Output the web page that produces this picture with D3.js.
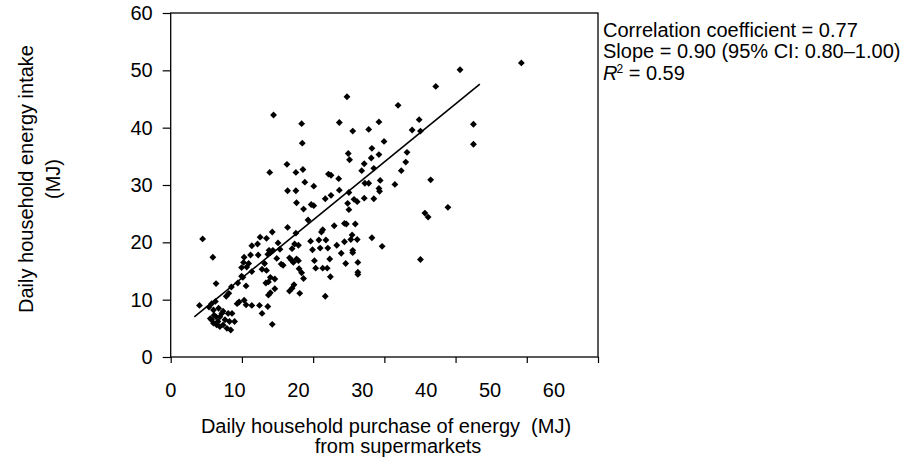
<!DOCTYPE html>
<html>
<head>
<meta charset="utf-8">
<script src="https://cdn.jsdelivr.net/npm/d3@7"></script>
<style>
  body { margin: 0; background: #fff; }
  text { font-family: "Liberation Sans", Arial, sans-serif; fill: #000; }
</style>
</head>
<body>
<div id="chart"></div>
<script>
// values (MJ)
const purchase = [54.9, 45.3, 41.5, 27.6, 35.6, 16.1, 20.5, 26.4, 32.6, 38.9, 47.4, 28.5, 31.0, 37.8, 39.1, 20.6,
    33.4, 47.4, 31.5, 27.8, 37.0, 32.6, 31.4, 28.0, 30.3, 18.2, 36.8, 15.5, 19.6, 20.7, 29.9, 31.8, 36.1, 24.7, 25.1,
    26.3, 21.0, 22.4, 30.4, 31.0, 32.8, 35.1, 40.7, 18.3, 19.6, 26.4, 27.9, 32.6, 32.7, 25.1, 24.2, 19.7, 22.0, 22.4,
    28.7, 29.2, 30.3, 31.8, 27.7, 27.9, 20.8, 39.8, 40.3, 43.4, 21.5, 18.3, 23.8, 23.6, 25.6, 27.2, 27.5, 28.9, 19.6,
    15.9, 14.0, 15.0, 12.7, 13.6, 16.8, 5.0, 21.9, 23.2, 24.3, 28.4, 28.2, 29.2, 27.2, 31.5, 26.0, 33.1, 19.4, 20.0,
    19.0, 15.4, 16.0, 17.1, 22.2, 23.4, 24.6, 28.5, 15.2, 15.6, 26.7, 28.5, 6.6, 11.5, 12.5, 13.7, 16.6, 18.6, 18.9,
    19.7, 20.0, 24.9, 39.1, 22.5, 11.4, 12.2, 14.7, 17.3, 17.6, 19.2, 27.4, 29.3, 11.1, 11.9, 12.7, 14.3, 15.0, 20.1,
    20.5, 22.7, 23.8, 24.5, 29.3, 29.3, 11.1, 11.3, 15.6, 16.3, 20.8, 25.0, 14.9, 15.3, 10.5, 11.8, 7.1, 16.3, 15.6,
    15.3, 19.3, 19.0, 18.6, 20.2, 9.5, 9.1, 8.7, 24.2, 11.5, 10.7, 10.4, 11.8, 12.7, 13.9, 15.2, 14.3, 15.9, 4.5, 6.4,
    7.0, 6.0, 6.7, 7.5, 8.2, 9.0, 9.6, 6.4, 6.7, 7.2, 7.7, 8.2, 8.8, 9.4, 10.0, 9.2, 8.5, 7.7, 7.1, 8.0, 7.4, 6.8, 6.2]
const intake = [51.3, 50.1, 47.2, 45.4, 43.9, 42.2, 40.7, 40.9, 41.0, 41.4, 40.6, 39.4, 39.7, 39.6, 39.4, 37.3,
    37.6, 37.1, 36.4, 35.5, 35.7, 35.3, 34.7, 34.4, 33.7, 33.6, 34.0, 32.2, 32.2, 32.7, 32.5, 32.9, 32.5, 31.9, 31.7,
    31.1, 30.5, 29.8, 30.3, 30.3, 30.8, 30.1, 30.9, 29.0, 29.0, 29.1, 28.7, 29.4, 28.9, 28.2, 27.6, 26.9, 26.6, 26.4,
    27.5, 27.1, 27.7, 27.6, 26.8, 25.7, 25.8, 25.1, 24.4, 26.1, 23.9, 22.6, 22.2, 21.8, 22.9, 23.3, 23.2, 23.2, 21.6,
    21.8, 20.9, 20.7, 19.4, 19.7, 19.9, 20.6, 20.2, 20.4, 20.4, 21.3, 20.5, 20.5, 20.1, 20.8, 19.5, 19.3, 19.7, 19.5,
    18.9, 18.6, 18.6, 18.8, 18.7, 19.0, 19.0, 18.6, 17.9, 18.2, 18.1, 18.2, 17.4, 17.4, 17.8, 17.8, 17.2, 17.3, 16.9,
    17.1, 16.8, 17.1, 17.0, 16.8, 16.5, 16.3, 16.3, 16.2, 16.0, 16.5, 16.3, 16.5, 15.6, 15.7, 14.9, 15.3, 15.1, 15.4,
    14.7, 15.5, 15.5, 15.5, 14.8, 14.4, 14.1, 13.9, 13.9, 13.6, 13.7, 14.0, 12.9, 13.1, 12.9, 12.4, 12.8, 11.9, 11.2,
    10.8, 12.6, 12.0, 11.5, 11.1, 12.2, 11.1, 10.6, 10.6, 9.9, 9.6, 9.3, 9.1, 9.0, 9.0, 8.8, 7.6, 5.7, 9.0, 9.3,
    9.7, 8.7, 8.2, 8.5, 8.0, 7.6, 7.6, 6.5, 5.9, 5.6, 5.3, 5.6, 5.0, 4.7, 6.2, 6.2, 6.5, 7.0, 7.0, 7.6, 6.2, 7.3, 6.7]
const fitLine = [{ x: 3.7, y: 7.0 }, { x: 48.4, y: 47.6 }]
const tickValues = [0, 10, 20, 30, 40, 50, 60]
const statLines = ["Correlation coefficient = 0.77", "Slope = 0.90 (95% CI: 0.80\u20131.00)"]

const W = 913, H = 465
const plot = { left: 170.7, right: 598, top: 13, bottom: 357 }

const svg = d3.select('#chart').append('svg')
    .attr('width', W)
    .attr('height', H)

// the data scale; the printed tick marks sit on a stretched grid, the labels on the data grid
const x = d3.scaleLinear().domain([0, 66.9]).range([plot.left, plot.right])
const xMarks = d3.scaleLinear().domain([0, 60]).range([plot.left, plot.right])
const y = d3.scaleLinear().domain([0, 60]).range([plot.bottom, plot.top])

svg.append('rect')
    .attr('x', plot.left).attr('y', plot.top)
    .attr('width', plot.right - plot.left).attr('height', plot.bottom - plot.top)
    .attr('fill', 'none').attr('stroke', '#000').attr('stroke-width', 1.3)

const yAxis = svg.append('g')
    .attr('transform', `translate(${plot.left},0)`)
    .call(d3.axisLeft(y).tickValues(tickValues).tickSize(8).tickPadding(10))
yAxis.select('.domain').remove()
yAxis.selectAll('line').attr('stroke-width', 1.2)
yAxis.selectAll('text').style('font-size', '20px').attr('font-family', null)

const xTicks = svg.append('g')
    .attr('transform', `translate(0,${plot.bottom})`)
    .call(d3.axisBottom(xMarks).tickValues(tickValues).tickSize(6).tickFormat(''))
xTicks.select('.domain').remove()
xTicks.selectAll('line').attr('stroke-width', 1.2)

svg.append('g').selectAll('text').data(tickValues)
    .enter()
    .append('text')
    .attr('x', d => x(d))
    .attr('y', 397)
    .attr('text-anchor', 'middle')
    .style('font-size', '20px')
    .text(d => d)

svg.append('path')
    .datum(fitLine)
    .attr('d', d3.line().x(d => x(d.x)).y(d => y(d.y)))
    .attr('fill', 'none')
    .attr('stroke', '#000')
    .attr('stroke-width', 1.6)

const diamond = d3.symbol().type(d3.symbolDiamond2).size(30)
svg.append('g').selectAll('path').data(purchase)
    .enter()
    .append('path')
    .attr('d', diamond)
    .attr('transform', (d, i) => `translate(${x(d)},${y(intake[i])})`)
    .attr('fill', '#000')

// axis titles
svg.append('text').attr('x', 386).attr('y', 433).attr('text-anchor', 'middle')
    .style('font-size', '20px')
    .text('Daily household purchase of energy\u00a0 (MJ)')
svg.append('text').attr('x', 398).attr('y', 453).attr('text-anchor', 'middle')
    .style('font-size', '20px').text('from supermarkets')

const yTitle = svg.append('text')
    .attr('transform', 'translate(33,179) rotate(-90)')
    .attr('text-anchor', 'middle')
    .style('font-size', '20px')
yTitle.append('tspan').attr('x', 0).attr('y', 0).text('Daily household energy intake')
yTitle.append('tspan').attr('x', 0).attr('y', 27).text('(MJ)')

// statistics block
svg.selectAll('.stat').data(statLines)
    .enter()
    .append('text')
    .attr('class', 'stat')
    .attr('x', 603)
    .attr('y', (d, i) => 36.5 + i * 21.7)
    .style('font-size', '20px')
    .text(d => d)
const r2 = svg.append('text').attr('x', 603).attr('y', 36.5 + 2 * 21.7).style('font-size', '20px')
r2.append('tspan').style('font-style', 'italic').text('R')
r2.append('tspan').attr('dx', -1).attr('dy', -7).style('font-size', '12px').text('2')
r2.append('tspan').attr('dy', 7).text(' = 0.59')
</script>
</body>
</html>
